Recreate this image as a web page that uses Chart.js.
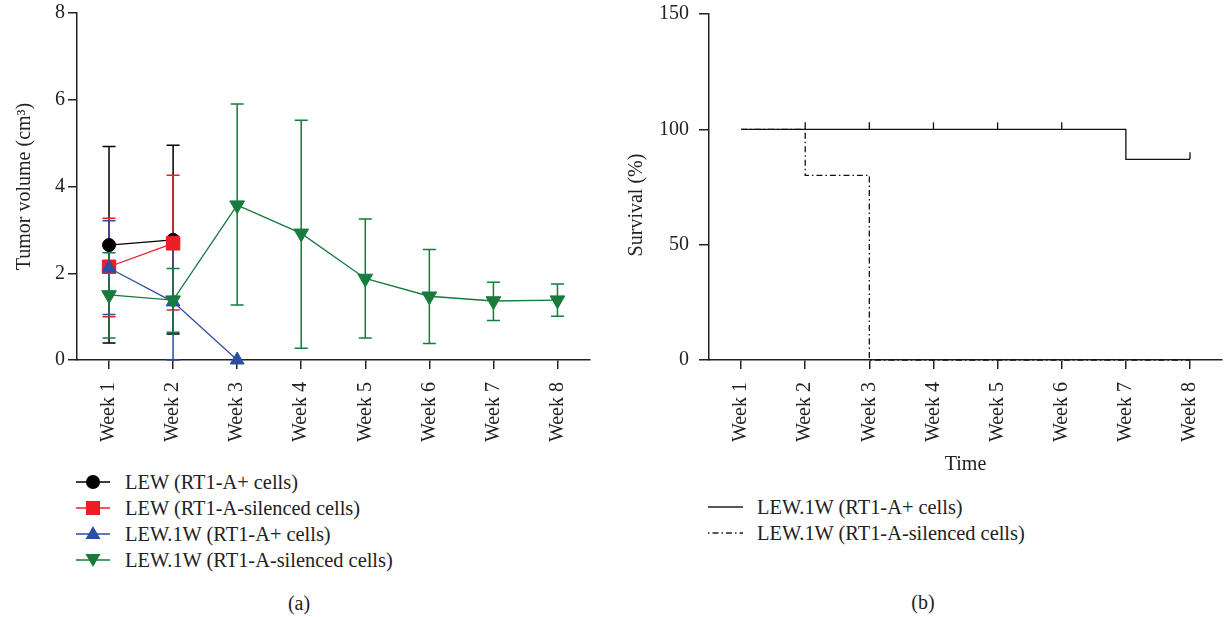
<!DOCTYPE html>
<html>
<head>
<meta charset="utf-8">
<script src="https://cdn.jsdelivr.net/npm/chart.js@4/dist/chart.umd.min.js"></script>
<style>
    body { margin: 0; width: 1227px; height: 617px; background: #fff; position: relative; overflow: hidden;
           font-family: 'Liberation Serif', 'DejaVu Serif', serif; color: #222; }
    canvas { position: absolute; top: 0; }
    #tumorChart { left: 0; }
    #survivalChart { left: 600px; }
    .legend { position: absolute; font-size: 20.4px; }
    .legend .row { display: flex; align-items: center; height: 26px; }
    .legend svg { flex: none; }
    .caption { position: absolute; font-size: 20px; transform: translate(-50%, -50%); }
</style>
</head>
<body>
<canvas id="tumorChart" width="600" height="455"></canvas>
<canvas id="survivalChart" width="627" height="480"></canvas>

<div class="legend" id="tumorLegend" style="left: 76px; top: 469px;"></div>
<div class="legend" id="survivalLegend" style="left: 708px; top: 494px;"></div>
<div class="caption" style="left: 299px; top: 603px;">(a)</div>
<div class="caption" style="left: 923px; top: 602px;">(b)</div>

<script>
// ---- data ----
const weeks = ['Week 1', 'Week 2', 'Week 3', 'Week 4', 'Week 5', 'Week 6', 'Week 7', 'Week 8'];
const tumorTicks = [0, 2, 4, 6, 8];
const survivalTicks = [0, 50, 100, 150];

// tumor volume (cm3): mean, upper and lower end of the error bar
const lewPos      = [2.65, 2.77];
const lewPosHi    = [4.92, 4.95];
const lewPosLo    = [0.39, 0.60];

const lewSil      = [2.15, 2.69];
const lewSilHi    = [3.27, 4.26];
const lewSilLo    = [1.00, 1.15];

const lew1wPos    = [2.12, 1.34, 0];
const lew1wPosHi  = [3.21, 2.73, null];
const lew1wPosLo  = [1.05, 0.00, null];

const lew1wSil    = [1.50, 1.38, 3.57, 2.92, 1.88, 1.47, 1.36, 1.38];
const lew1wSilHi  = [2.47, 2.11, 5.90, 5.53, 3.25, 2.55, 1.79, 1.75];
const lew1wSilLo  = [0.51, 0.64, 1.27, 0.27, 0.51, 0.38, 0.91, 1.01];

// survival (%)
const survPos     = [100, 100, 100, 100, 100, 100, 87, 87];
const survSil     = [100, 80, 0, 0, 0, 0, 0, 0];
const censorPos   = [2, 3, 4, 5, 7];
const censorSil   = [1];

const FONT = "'Liberation Serif', 'DejaVu Serif', serif";
const AXIS = '#222';
const COLORS = { black: '#000000', red: '#ee1c25', blue: '#2c4ea3', green: '#177b3d' };
const DASH_DOT = [6, 3, 1.5, 3];

// error bars drawn under the points
const errorBars = {
    id: 'errorBars',
    beforeDatasetsDraw(chart) {
        const { ctx, scales: { x, y } } = chart;
        chart.data.datasets.forEach(ds => {
            if (!ds.errHi) return;
            ctx.save();
            ctx.strokeStyle = ds.borderColor;
            ctx.lineWidth = 1.5;
            ds.data.forEach((v, i) => {
                if (v == null || ds.errHi[i] == null) return;
                const px = x.getPixelForValue(i);
                const top = y.getPixelForValue(ds.errHi[i]);
                const bot = y.getPixelForValue(ds.errLo[i]);
                ctx.beginPath();
                ctx.moveTo(px, top); ctx.lineTo(px, bot);
                ctx.moveTo(px - 6.5, top); ctx.lineTo(px + 6.5, top);
                ctx.moveTo(px - 6.5, bot); ctx.lineTo(px + 6.5, bot);
                ctx.stroke();
            });
            ctx.restore();
        });
    }
};

// censor marks on the survival curves
const censorMarks = {
    id: 'censorMarks',
    afterDatasetsDraw(chart) {
        const { ctx, scales: { x, y } } = chart;
        chart.data.datasets.forEach(ds => {
            if (!ds.censor) return;
            ctx.save();
            ctx.strokeStyle = ds.borderColor;
            ctx.lineWidth = 1.3;
            ds.censor.forEach(i => {
                const px = x.getPixelForValue(i);
                const py = y.getPixelForValue(ds.data[Math.max(i - 1, 0)]);
                ctx.beginPath();
                ctx.moveTo(px, py); ctx.lineTo(px, py - 7);
                ctx.stroke();
            });
            ctx.restore();
        });
    }
};

// y title of the survival chart sits a little below the axis middle
const survivalTitle = {
    id: 'survivalTitle',
    afterDraw(chart) {
        const ctx = chart.ctx;
        ctx.save();
        ctx.translate(37, 205);
        ctx.rotate(-Math.PI / 2);
        ctx.font = '20px ' + FONT;
        ctx.fillStyle = AXIS;
        ctx.textAlign = 'center';
        ctx.textBaseline = 'middle';
        ctx.fillText('Survival (%)', 0, 0);
        ctx.restore();
    }
};

function xScale(height, title) {
    return {
        type: 'category',
        offset: true,
        afterFit: s => { s.height = height; },
        grid: { drawOnChartArea: false, drawTicks: true, tickLength: 9, color: AXIS, lineWidth: 1.5 },
        border: { display: true, color: AXIS, width: 1.5 },
        ticks: { minRotation: 90, maxRotation: 90, padding: 13, color: AXIS, font: { family: FONT, size: 20 } },
        title: title ? { display: true, text: title, color: AXIS, padding: { top: 0, bottom: 3 }, font: { family: FONT, size: 20 } }
                     : { display: false }
    };
}

function yScale(ticks, width, tickLen, pad) {
    return {
        min: ticks[0],
        max: ticks[ticks.length - 1],
        // fixed width, and let layout.padding alone decide the top of the plot
        afterFit: s => { s.width = width; s.paddingTop = 0; s.paddingBottom = 0; },
        afterBuildTicks: s => { s.ticks = ticks.map(v => ({ value: v })); },
        grid: { drawOnChartArea: false, drawTicks: true, tickLength: tickLen, color: AXIS, lineWidth: 1.5 },
        border: { display: true, color: AXIS, width: 1.5 },
        ticks: { padding: pad, color: AXIS, font: { family: FONT, size: 20 } }
    };
}

function tumorSeries(label, data, hi, lo, color, style, radius, rotation, order) {
    return {
        label, data, errHi: hi, errLo: lo, order,
        borderColor: color, backgroundColor: color,
        borderWidth: 1.3,
        pointStyle: style, pointRadius: radius, pointRotation: rotation,
        pointBackgroundColor: color, pointBorderColor: color, pointBorderWidth: 1,
        clip: false
    };
}

new Chart(document.getElementById('tumorChart'), {
    type: 'line',
    data: {
        labels: weeks,
        datasets: [
            tumorSeries('LEW (RT1-A+ cells)', lewPos, lewPosHi, lewPosLo, COLORS.black, 'circle', 6.5, 0, 4),
            tumorSeries('LEW (RT1-A-silenced cells)', lewSil, lewSilHi, lewSilLo, COLORS.red, 'rect', 9.5, 0, 3),
            tumorSeries('LEW.1W (RT1-A+ cells)', lew1wPos, lew1wPosHi, lew1wPosLo, COLORS.blue, 'triangle', 8, 0, 2),
            tumorSeries('LEW.1W (RT1-A-silenced cells)', lew1wSil, lew1wSilHi, lew1wSilLo, COLORS.green, 'triangle', 8.5, 180, 1)
        ]
    },
    options: {
        responsive: false,
        animation: false,
        layout: { padding: { top: 13, right: 3, left: 0, bottom: 0 } },
        plugins: { legend: { display: false }, tooltip: { enabled: false } },
        scales: {
            x: xScale(95),
            y: Object.assign(yScale(tumorTicks, 77, 9, 3), {
                title: { display: true, text: 'Tumor volume (cm³)', color: AXIS, padding: { top: 13 }, font: { family: FONT, size: 20 } }
            })
        }
    },
    plugins: [errorBars]
});

new Chart(document.getElementById('survivalChart'), {
    type: 'line',
    data: {
        labels: weeks,
        datasets: [
            { label: 'LEW.1W (RT1-A+ cells)', data: survPos, censor: censorPos, stepped: true,
              borderColor: '#111', borderWidth: 1.3, pointRadius: 0, clip: false },
            { label: 'LEW.1W (RT1-A-silenced cells)', data: survSil, censor: censorSil, stepped: true,
              borderColor: '#111', borderWidth: 1.3, borderDash: DASH_DOT, pointRadius: 0, clip: false }
        ]
    },
    options: {
        responsive: false,
        animation: false,
        layout: { padding: { top: 14, right: 0, left: 0, bottom: 0 } },
        plugins: { legend: { display: false }, tooltip: { enabled: false } },
        scales: {
            x: xScale(120, 'Time'),
            y: yScale(survivalTicks, 109, 10, 10)
        }
    },
    plugins: [censorMarks, survivalTitle]
});

// ---- HTML legends ----
function markerSvg(color, shape) {
    let mark = '';
    if (shape === 'circle') mark = `<circle cx="17" cy="11" r="7" fill="${color}"/>`;
    if (shape === 'rect') mark = `<rect x="10" y="4" width="14" height="14" fill="${color}"/>`;
    if (shape === 'up') mark = `<polygon points="17,3 24.5,16 9.5,16" fill="${color}"/>`;
    if (shape === 'down') mark = `<polygon points="9.5,5 24.5,5 17,18" fill="${color}"/>`;
    return `<svg width="34" height="22"><line x1="0" y1="11" x2="34" y2="11" stroke="${color}" stroke-width="1.5"/>${mark}</svg>`;
}

function lineSvg(dash) {
    return `<svg width="35" height="22"><line x1="0" y1="11" x2="35" y2="11" stroke="#222" stroke-width="1.3"
        ${dash ? `stroke-dasharray="${dash.join(' ')}"` : ''}/></svg>`;
}

const tumorLegend = [
    ['LEW (RT1-A+ cells)', COLORS.black, 'circle'],
    ['LEW (RT1-A-silenced cells)', COLORS.red, 'rect'],
    ['LEW.1W (RT1-A+ cells)', COLORS.blue, 'up'],
    ['LEW.1W (RT1-A-silenced cells)', COLORS.green, 'down']
];
document.getElementById('tumorLegend').innerHTML = tumorLegend.map(([text, color, shape]) =>
    `<div class="row">${markerSvg(color, shape)}<span style="margin-left: 15px;">${text}</span></div>`
).join('');

const survivalLegend = [
    ['LEW.1W (RT1-A+ cells)', null],
    ['LEW.1W (RT1-A-silenced cells)', [1.5, 3, 6, 3]]
];
document.getElementById('survivalLegend').innerHTML = survivalLegend.map(([text, dash]) =>
    `<div class="row">${lineSvg(dash)}<span style="margin-left: 14px;">${text}</span></div>`
).join('');
</script>
</body>
</html>
